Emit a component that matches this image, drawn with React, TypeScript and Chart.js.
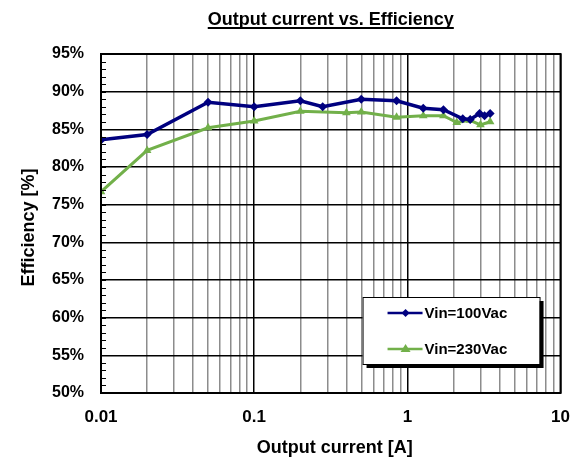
import React, { useEffect, useRef } from 'react';
import { Chart, registerables } from 'chart.js';

Chart.register(...registerables);

const chartTitle = 'Output current vs. Efficiency';
const xAxisTitle = 'Output current [A]';
const yAxisTitle = 'Efficiency [%]';

const seriesNames = ['Vin=100Vac', 'Vin=230Vac'];

const current100 = [0.01, 0.02, 0.05, 0.1, 0.2, 0.28, 0.5, 0.85, 1.27, 1.72, 2.3, 2.57, 2.96, 3.19, 3.47];
const eff100 = [83.6, 84.3, 88.6, 88.0, 88.8, 88.0, 89.0, 88.8, 87.8, 87.6, 86.4, 86.3, 87.1, 86.8, 87.1];

const current230 = [0.01, 0.02, 0.05, 0.1, 0.2, 0.4, 0.5, 0.85, 1.27, 1.72, 2.1, 2.57, 3.0, 3.47];
const eff230 = [76.7, 82.2, 85.2, 86.1, 87.4, 87.2, 87.3, 86.6, 86.8, 86.8, 85.9, 86.2, 85.6, 86.0];

const decades = [0.01, 0.1, 1];
const decadeMultipliers = [1, 2, 3, 4, 5, 6, 7, 8, 9];
const xMin = 0.01;
const xMax = 10;
const yMin = 50;
const yMax = 95;
const yMajorStep = 5;
const yMinorStep = 1;

const colors = ['#00007f', '#72b04a'];

const isDecade = (v: number) => Math.abs(Math.log10(v) - Math.round(Math.log10(v))) < 1e-9;

const FONT = '"Liberation Sans", Arial, sans-serif';

const decorPlugin = {
  id: 'decor',
  afterDraw(chart: any) {
    const { ctx, chartArea } = chart;
    const { left, right, top, bottom } = chartArea;
    const yScale = chart.scales.y;
    ctx.save();
    // minor ticks on left axis
    ctx.strokeStyle = '#000';
    ctx.lineWidth = 1;
    for (let v = yMin; v <= yMax; v += yMinorStep) {
      const y = Math.round(yScale.getPixelForValue(v)) + 0.5;
      ctx.beginPath();
      ctx.moveTo(left, y);
      ctx.lineTo(left + 5, y);
      ctx.stroke();
    }
    // frame
    ctx.lineWidth = 2;
    ctx.strokeRect(left, top, right - left, bottom - top);

    // title
    ctx.fillStyle = '#000';
    ctx.font = `bold 18px ${FONT}`;
    ctx.textAlign = 'center';
    ctx.textBaseline = 'alphabetic';
    const cx = (left + right) / 2;
    ctx.fillText(chartTitle, cx, 25);
    const tw = ctx.measureText(chartTitle).width;
    ctx.fillRect(cx - tw / 2, 27, tw, 2);

    // axis titles
    ctx.font = `bold 18px ${FONT}`;
    ctx.textBaseline = 'middle';
    ctx.fillText(xAxisTitle, cx + 4, 448);
    ctx.save();
    ctx.translate(29, (top + bottom) / 2 + 4);
    ctx.rotate(-Math.PI / 2);
    ctx.fillText(yAxisTitle, 0, 0);
    ctx.restore();

    // legend
    const bw = 177;
    const bh = 67;
    const bx = right - 198;
    const by = bottom - 96;
    ctx.fillStyle = '#000';
    ctx.fillRect(bx + 4, by + 4, bw, bh);
    ctx.fillStyle = '#fff';
    ctx.fillRect(bx, by, bw, bh);
    ctx.lineWidth = 1;
    ctx.strokeStyle = '#000';
    ctx.strokeRect(bx + 0.5, by + 0.5, bw, bh);
    const rows = [by + 16, by + 52];
    chart.data.datasets.forEach((ds: any, i: number) => {
      const ly = rows[i];
      ctx.strokeStyle = ds.borderColor;
      ctx.lineWidth = 2.5;
      ctx.beginPath();
      ctx.moveTo(bx + 25, ly);
      ctx.lineTo(bx + 60, ly);
      ctx.stroke();
      const mx = bx + 43;
      ctx.fillStyle = ds.borderColor;
      ctx.beginPath();
      if (i === 0) {
        ctx.moveTo(mx, ly - 4);
        ctx.lineTo(mx + 4, ly);
        ctx.lineTo(mx, ly + 4);
        ctx.lineTo(mx - 4, ly);
      } else {
        ctx.moveTo(mx, ly - 5);
        ctx.lineTo(mx + 5, ly + 3);
        ctx.lineTo(mx - 5, ly + 3);
      }
      ctx.closePath();
      ctx.fill();
      ctx.fillStyle = '#000';
      ctx.font = `bold 15px ${FONT}`;
      ctx.textAlign = 'left';
      ctx.textBaseline = 'middle';
      ctx.fillText(ds.label, bx + 62, ly + 1);
    });
    ctx.restore();
  },
};

export default function App() {
  const ref = useRef<HTMLCanvasElement | null>(null);
  useEffect(() => {
    if (!ref.current) return;
    const xTicks: number[] = [];
    decades.forEach((d) => decadeMultipliers.forEach((m) => xTicks.push(+(d * m).toPrecision(6))));
    xTicks.push(xMax);

    const chart = new Chart(ref.current, {
      type: 'line',
      data: {
        datasets: [
          {
            label: seriesNames[0],
            data: current100.map((x, i) => ({ x, y: eff100[i] })),
            borderColor: colors[0],
            backgroundColor: colors[0],
            borderWidth: 3.5,
            pointStyle: 'rectRot',
            pointRadius: 4.5,
            pointBorderWidth: 0,
            tension: 0,
          },
          {
            label: seriesNames[1],
            data: current230.map((x, i) => ({ x, y: eff230[i] })),
            borderColor: colors[1],
            backgroundColor: colors[1],
            borderWidth: 3,
            pointStyle: 'triangle',
            pointRadius: 5,
            pointBorderWidth: 0,
            tension: 0,
          },
        ],
      },
      options: {
        responsive: false,
        animation: false,
        layout: { padding: { top: 54, right: 19, left: 0, bottom: 0 } },
        plugins: { legend: { display: false }, title: { display: false }, tooltip: { enabled: false } },
        scales: {
          x: {
            type: 'logarithmic',
            min: xMin,
            max: xMax,
            afterBuildTicks: (scale: any) => {
              scale.ticks = xTicks.map((v) => ({ value: v, major: isDecade(v) }));
            },
            afterFit: (scale: any) => {
              scale.height = 66;
            },
            ticks: {
              autoSkip: false,
              maxRotation: 0,
              padding: 14,
              color: '#000',
              font: { family: FONT, size: 17, weight: 'bold' },
              callback: (v: any) => (isDecade(Number(v)) ? String(Number(v)) : ''),
            },
            grid: {
              drawTicks: false,
              color: (c: any) => (c.tick && isDecade(c.tick.value) ? '#000' : '#8c8c8c'),
              lineWidth: 1.5,
            },
            border: { display: false },
          },
          y: {
            type: 'linear',
            min: yMin,
            max: yMax,
            afterFit: (scale: any) => {
              scale.width = 101;
            },
            ticks: {
              stepSize: yMajorStep,
              padding: 17,
              color: '#000',
              font: { family: FONT, size: 16, weight: 'bold' },
              callback: (v: any) => `${v}%`,
            },
            grid: { drawTicks: false, color: '#000', lineWidth: 1.5 },
            border: { display: false },
          },
        },
      },
      plugins: [decorPlugin],
    });
    return () => chart.destroy();
  }, []);
  return (
    <div style={{ position: 'absolute', left: 0, top: 0, width: 584, height: 459, background: '#fff' }}>
      <canvas ref={ref} width={584} height={459} style={{ display: 'block' }} />
    </div>
  );
}
